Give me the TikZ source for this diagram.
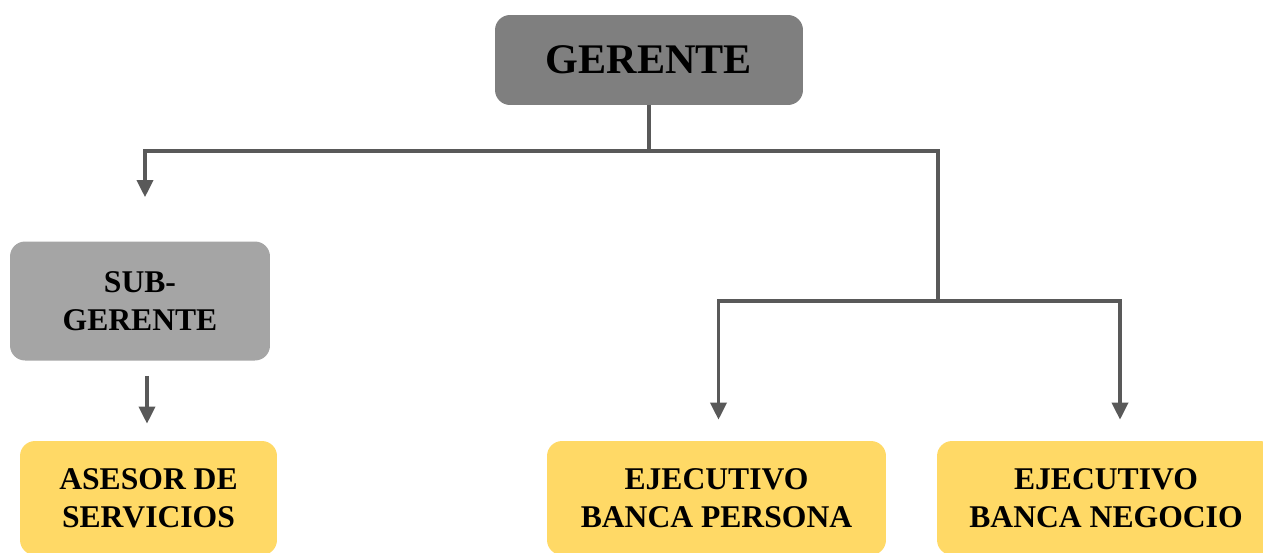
\documentclass[tikz,border=0pt]{standalone}
\usepackage{fontspec}
\setmainfont{Liberation Serif}
\usepackage{xcolor}
\definecolor{BossGray}{HTML}{7F7F7F}
\definecolor{SubGray}{HTML}{A5A5A5}
\definecolor{StaffGold}{HTML}{FFD966}
\definecolor{LinkGray}{HTML}{595959}
\usetikzlibrary{arrows.meta}

\begin{document}
\begin{tikzpicture}[
  x=0.02cm,y=-0.02cm,
  box/.style={rounded corners=0.3cm,inner sep=0pt,align=center,font=\bfseries\fontsize{18}{21.6}\selectfont},
  link/.style={draw=LinkGray,line width=0.07cm},
  flow/.style={link,-{Triangle[length=0.34cm,width=0.32cm]}}
]
\useasboundingbox (0,0) rectangle (1263,552);
\node[box,fill=BossGray,minimum width=6.16cm,minimum height=1.8cm,font=\bfseries\fontsize{24}{28}\selectfont] (ger) at (649,60) {GERENTE};
\node[box,fill=SubGray,minimum width=5.2cm,minimum height=2.38cm] (sub) at (140,301) {SUB-\\GERENTE};
\node[box,fill=StaffGold,minimum width=5.14cm,minimum height=2.28cm] (ase) at (148.5,498) {ASESOR DE\\SERVICIOS};
\node[box,fill=StaffGold,minimum width=6.78cm,minimum height=2.28cm] (bp) at (716.5,498) {EJECUTIVO\\BANCA PERSONA};
\node[box,fill=StaffGold,minimum width=6.76cm,minimum height=2.28cm] (bn) at (1106,498) {EJECUTIVO\\BANCA NEGOCIO};
% junctions
\coordinate (bus) at (649,151);
\coordinate (fork) at (938,301);
\draw[flow,shorten >=0.88cm] (ger.south) |- ([xshift=0.1cm]sub.north |- bus) -- ([xshift=0.1cm]sub.north);
\draw[link] (bus) -| (fork);
\draw[flow,shorten >=0.42cm] (fork) -| ([xshift=0.04cm]bp.north);
\draw[flow,shorten >=0.42cm] (fork) -| ([xshift=0.28cm]bn.north);
\draw[flow,shorten <=0.3cm,shorten >=0.34cm] ([xshift=0.14cm]sub.south) -- ([xshift=0.14cm]sub.south |- ase.north);
\end{tikzpicture}
\end{document}
